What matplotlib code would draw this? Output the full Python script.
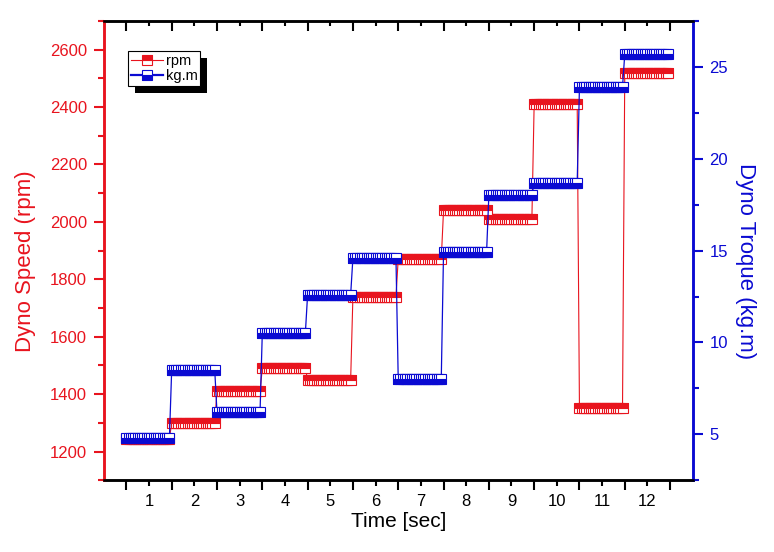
import numpy as np
import matplotlib
matplotlib.use("Agg")
import matplotlib.pyplot as plt
from matplotlib.ticker import MultipleLocator, FixedLocator
from matplotlib.patches import Rectangle

plt.rcParams['font.family'] = ['Liberation Sans', 'DejaVu Sans']

# one value per second
seconds = [1, 2, 3, 4, 5, 6, 7, 8, 9, 10, 11, 12]
rpm = [1245, 1300, 1410, 1490, 1450, 1740, 1870, 2040, 2010, 2410, 1350, 2520]
torque = [4.8, 8.5, 6.2, 10.5, 12.6, 14.6, 8.0, 14.9, 18.0, 18.7, 23.9, 25.7]
half_ticks = [0.5, 1.5, 2.5, 3.5, 4.5, 5.5, 6.5, 7.5, 8.5, 9.5, 10.5, 11.5, 12.5]

RED = '#e8141e'
BLUE = '#0a0ad2'

# the logger sampled each held step many times; rebuild the sample grid
samples = 20
t = []
rpm_s = []
tq_s = []
for s, r, q in zip(seconds, rpm, torque):
    tt = np.linspace(s - 0.5, s + 0.45, samples)
    t.extend(tt)
    rpm_s.extend([r] * samples)
    tq_s.extend([q] * samples)

fig = plt.figure(figsize=(7.74, 5.52), dpi=100)
ax = fig.add_axes([0.134, 0.130, 0.761, 0.832])
ax2 = ax.twinx()

l1, = ax.plot(t, rpm_s, color=RED, lw=0.8, marker='s', ms=7,
              fillstyle='top', markerfacecolor=RED, markerfacecoloralt='white',
              markeredgecolor=RED, markeredgewidth=0.8, label='rpm')
l2, = ax2.plot(t, tq_s, color=BLUE, lw=0.9, marker='s', ms=7,
               fillstyle='bottom', markerfacecolor=BLUE, markerfacecoloralt='white',
               markeredgecolor=BLUE, markeredgewidth=0.8, label='kg.m')

ax.set_xlim(0, 13)
ax.set_ylim(1100, 2700)
ax2.set_ylim(2.5, 27.5)

ax.xaxis.set_major_locator(FixedLocator(seconds))
ax.xaxis.set_minor_locator(FixedLocator(half_ticks))
ax.yaxis.set_major_locator(MultipleLocator(200))
ax.yaxis.set_minor_locator(MultipleLocator(100))
ax2.yaxis.set_major_locator(MultipleLocator(5))
ax2.yaxis.set_minor_locator(MultipleLocator(2.5))

for sp in ['left', 'right', 'top', 'bottom']:
    ax.spines[sp].set_linewidth(1.8)
    ax2.spines[sp].set_linewidth(1.8)
ax.spines['left'].set_color(RED)
ax2.spines['left'].set_color(RED)
ax2.spines['right'].set_color(BLUE)
ax.spines['right'].set_color(BLUE)

ax.tick_params(axis='x', which='major', direction='out', length=4, width=1.5,
               labelsize=12, pad=6, top=False)
ax.tick_params(axis='x', which='minor', direction='out', length=7, width=1.5, top=False)

# inward tick marks along the top edge (x in data, y in axes fraction)
xf = ax2.get_xaxis_transform()
ax2.vlines(seconds, 0.988, 1.0, transform=xf, colors='black', lw=1.5,
           clip_on=False, zorder=6)
ax2.vlines(half_ticks, 0.979, 1.0, transform=xf, colors='black', lw=1.5,
           clip_on=False, zorder=6)

ax.tick_params(axis='y', which='major', length=7, width=1.5, colors=RED, labelsize=12, pad=5)
ax.tick_params(axis='y', which='minor', length=4, width=1.5, colors=RED)
ax2.tick_params(axis='y', which='major', length=7, width=1.5, colors=BLUE, labelsize=12, pad=5)
ax2.tick_params(axis='y', which='minor', length=4, width=1.5, colors=BLUE)

ax.set_xlabel('Time [sec]', fontsize=15, labelpad=2)
ax.set_ylabel('Dyno Speed (rpm)', fontsize=16, color=RED, labelpad=10)
ax2.set_ylabel('Dyno Troque (kg.m)', fontsize=16, color=BLUE, rotation=270, labelpad=20)
ax.yaxis.label.set_y(0.477)
ax2.yaxis.label.set_y(0.477)

leg = ax2.legend([l1, l2], ['rpm', 'kg.m'], loc='upper left',
                 bbox_to_anchor=(0.042, 0.935), fontsize=10.5, frameon=True,
                 fancybox=False, framealpha=1, borderpad=0.2, handlelength=2.2,
                 handletextpad=0.15, labelspacing=0.1, borderaxespad=0, markerscale=1.1)
leg.get_frame().set_edgecolor('black')
leg.get_frame().set_linewidth(0.8)
leg.get_lines()[1].set_linewidth(1.6)
leg.set_zorder(10)

fig.savefig('out.png', dpi=100)

# shadow behind the legend box, placed from its drawn extent
renderer = fig.canvas.get_renderer()
bb = leg.get_window_extent(renderer)
sh = Rectangle((bb.x0 + 7, bb.y0 - 7), bb.width, bb.height, transform=None,
               facecolor='black', edgecolor='none', zorder=9)
ax2.add_artist(sh)
fig.savefig('out.png', dpi=100)
